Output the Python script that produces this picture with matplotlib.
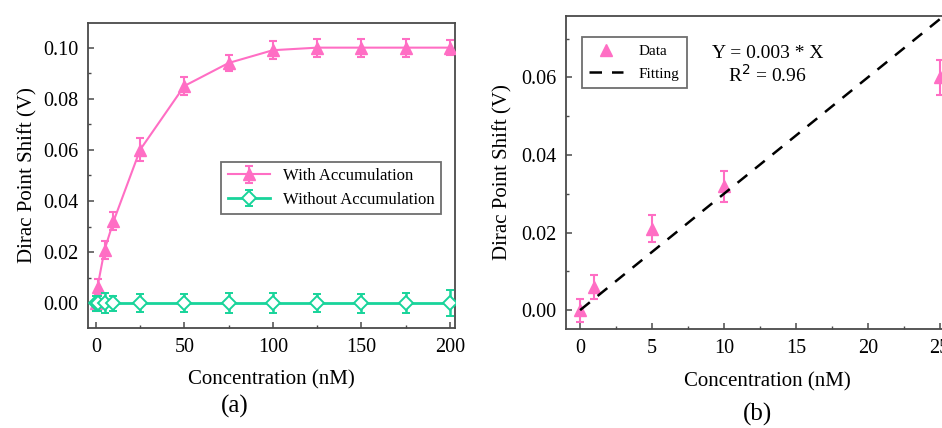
import matplotlib.pyplot as plt
from matplotlib.lines import Line2D
from matplotlib.ticker import MultipleLocator

# panel (a)
conc_a = [0, 1, 5, 10, 25, 50, 75, 100, 125, 150, 175, 200]
with_acc = [0.0, 0.0065, 0.021, 0.032, 0.060, 0.085, 0.094, 0.099, 0.100, 0.100, 0.100, 0.100]
with_err = [0.003, 0.003, 0.0035, 0.0035, 0.0045, 0.0035, 0.003, 0.0035, 0.0035, 0.0035, 0.0035, 0.003]
without_acc = [0.0, 0.0, 0.0, 0.0, 0.0, 0.0, 0.0, 0.0, 0.0, 0.0, 0.0, 0.0]
without_err = [0.003, 0.003, 0.004, 0.003, 0.0035, 0.0035, 0.004, 0.004, 0.0035, 0.0038, 0.004, 0.005]

# panel (b)
conc_b = [0, 1, 5, 10, 25]
shift_b = [0.0, 0.006, 0.021, 0.032, 0.060]
err_b = [0.003, 0.003, 0.0035, 0.004, 0.0045]
fit_x = [0, 27]
slope = 0.003

pink = '#ff6ec4'
green = '#18d49a'
spine = '#4a4a4a'

plt.rcParams['font.family'] = ['Liberation Serif', 'DejaVu Serif']

fig = plt.figure(figsize=(9.42, 4.28), dpi=100)
ax1 = fig.add_axes([0.0934, 0.2336, 0.390, 0.713])
ax2 = fig.add_axes([0.601, 0.231, 0.427, 0.732])


def style(ax):
    for s in ax.spines.values():
        s.set_color(spine)
        s.set_linewidth(1.3)
    ax.tick_params(direction='in', which='both', colors=spine, labelcolor='black',
                   labelsize=14.5, top=False, right=False, pad=7)
    ax.tick_params(which='major', length=4, width=1.1)
    ax.tick_params(which='minor', length=2.5, width=1.0)


ax1.errorbar(conc_a, with_acc, yerr=with_err, color=pink, marker='^', ms=8,
             lw=1.5, capsize=3, capthick=1.5, elinewidth=1.5, label='With Accumulation', zorder=3)
ax1.errorbar(conc_a, without_acc, yerr=without_err, color=green, marker='D', ms=7,
             mfc='white', mec=green, mew=1.4, lw=2, capsize=3, capthick=1.8,
             elinewidth=1.8, label='Without Accumulation', zorder=4)
ax1.set_xlim(-4.4, 203)
ax1.set_ylim(-0.0097, 0.1097)
ax1.xaxis.set_major_locator(MultipleLocator(50))
ax1.xaxis.set_minor_locator(MultipleLocator(25))
ax1.yaxis.set_major_locator(MultipleLocator(0.02))
ax1.yaxis.set_minor_locator(MultipleLocator(0.01))
ax1.yaxis.set_major_formatter(lambda v, p: f'{v:.2f}')
ax1.set_xlabel('Concentration (nM)', fontsize=15, labelpad=10)
ax1.set_ylabel('Dirac Point Shift (V)', fontsize=15, labelpad=4)
style(ax1)
leg1 = ax1.legend(loc='center', bbox_to_anchor=(0.662, 0.459), fontsize=12, frameon=True,
                  fancybox=False, handlelength=2.5, handletextpad=0.8, borderpad=0.4,
                  labelspacing=0.45, borderaxespad=0)
leg1.get_frame().set_edgecolor(spine)
leg1.get_frame().set_linewidth(1.3)

ax2.errorbar(conc_b, shift_b, yerr=err_b, color=pink, marker='^', ms=9, ls='none',
             capsize=3, capthick=1.5, elinewidth=1.5, zorder=3)
ax2.plot(fit_x, [slope * x for x in fit_x], color='black', ls=(0, (5, 4)), lw=1.8, zorder=4)
ax2.set_xlim(-0.97, 27)
ax2.set_ylim(-0.0049, 0.0759)
ax2.xaxis.set_major_locator(MultipleLocator(5))
ax2.xaxis.set_minor_locator(MultipleLocator(2.5))
ax2.yaxis.set_major_locator(MultipleLocator(0.02))
ax2.yaxis.set_minor_locator(MultipleLocator(0.01))
ax2.yaxis.set_major_formatter(lambda v, p: f'{v:.2f}')
ax2.set_xlabel('Concentration (nM)', fontsize=15, labelpad=10)
ax2.set_ylabel('Dirac Point Shift (V)', fontsize=15, labelpad=6)
style(ax2)
h_data = Line2D([], [], color=pink, marker='^', ms=9, ls='none')
h_fit = Line2D([], [], color='black', ls=(0, (5, 4)), lw=1.8)
leg2 = ax2.legend([h_data, h_fit], ['Data', 'Fitting'],
                  loc='center', bbox_to_anchor=(0.169, 0.851), fontsize=11, frameon=True,
                  fancybox=False, handlelength=2.2, handletextpad=1.0, borderpad=0.5,
                  labelspacing=0.6, borderaxespad=0)
leg2.get_frame().set_edgecolor(spine)
leg2.get_frame().set_linewidth(1.3)
ax2.text(0.50, 0.843, 'Y = 0.003 * X\nR$^2$ = 0.96', transform=ax2.transAxes,
         ha='center', va='center', fontsize=14, linespacing=1.1)

fig.text(0.249, 0.05, '(a)', ha='center', va='center', fontsize=18)
fig.text(0.804, 0.032, '(b)', ha='center', va='center', fontsize=18)

fig.savefig('out.png', dpi=100)
